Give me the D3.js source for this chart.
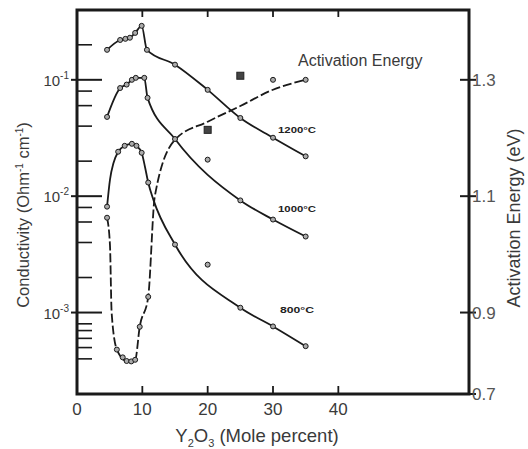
<!DOCTYPE html>
<html><head><meta charset="utf-8">
<script src="https://cdn.jsdelivr.net/npm/d3@7"></script>
<style>body{margin:0;background:#fff}svg{display:block}</style>
</head><body><svg id="c" width="528" height="449"></svg>
<script>
// ---- data ----
const mole1200 = [4.6, 6.6, 7.4, 8.1, 8.9, 9.9, 10.7, 15, 20, 25, 30, 35];
const cond1200 = [0.181, 0.220, 0.225, 0.230, 0.253, 0.291, 0.181, 0.135, 0.082, 0.047, 0.0318, 0.0220];

const mole1000 = [4.6, 6.6, 7.6, 8.4, 9.0, 10.3, 10.8, 15, 25, 30, 35];
const cond1000 = [0.048, 0.085, 0.091, 0.100, 0.104, 0.104, 0.070, 0.031, 0.0092, 0.0063, 0.0045];
const mole1000Pts = [4.6, 6.6, 7.6, 8.4, 9.0, 10.3, 10.8, 15, 20, 25, 30, 35];
const cond1000Pts = [0.048, 0.085, 0.091, 0.100, 0.104, 0.104, 0.070, 0.031, 0.0206, 0.0092, 0.0063, 0.0045];

const mole800 = [4.6, 5.05, 5.6, 6.3, 7.3, 8.4, 9.1, 9.9, 10.4, 10.9, 11.7, 15, 25, 30, 35];
const cond800 = [0.00813, 0.0139, 0.0194, 0.0241, 0.0271, 0.0282, 0.0271, 0.0236, 0.0179, 0.0131, 0.0093, 0.00384, 0.0011, 0.00076, 0.000514];
const mole800Pts = [4.6, 6.3, 7.3, 8.4, 9.1, 9.9, 10.9, 15, 20, 25, 30, 35];
const cond800Pts = [0.00813, 0.0241, 0.0271, 0.0282, 0.0271, 0.0236, 0.0131, 0.00384, 0.00258, 0.0011, 0.00076, 0.000514];

const moleAE = [4.6, 5.05, 5.3, 6.1, 7.6, 8.9, 9.6, 10.9, 11.9, 15, 20, 25, 30, 35];
const energyAE = [1.063, 1.015, 0.90, 0.809, 0.781, 0.784, 0.865, 0.927, 1.099, 1.197, 1.228, 1.255, 1.283, 1.30];
const moleAEPts = [4.6, 6.1, 7.0, 7.6, 8.3, 8.9, 9.6, 10.9, 30, 35];
const energyAEPts = [1.063, 0.809, 0.790, 0.781, 0.780, 0.784, 0.865, 0.927, 1.30, 1.30];
const moleAESq = [20, 25];
const energyAESq = [1.214, 1.307];

const xTicks = [0, 10, 20, 30, 40];
const yMajor = [0.1, 0.01, 0.001];
const yMajorExp = ["-1", "-2", "-3"];
const yMinor = [0.2, 0.08, 0.06, 0.04, 0.02, 0.008, 0.006, 0.004, 0.002, 0.0008, 0.0007, 0.0006, 0.0005, 0.0004];
const aeTicks = [0.7, 0.9, 1.1, 1.3];
const seriesLabels = ["1200°C", "1000°C", "800°C"];
const labelAt = [0.0375, 0.0078, 0.00107];

// ---- scales ----
const svg = d3.select("#c");
const x = d3.scaleLinear().domain([0, 60]).range([77, 469]);
const y = d3.scaleLog().domain([Math.pow(10, -3.7), Math.pow(10, -0.4)]).range([394, 10]);
const yAE = d3.scaleLinear().domain([0.7, 0.9, 1.3]).range([394, y(0.001), y(0.1)]);

const font = "'Liberation Sans', Arial, sans-serif";
const ink = "#1a1a1a";
const txt = "#3a3a3a";

// frame
svg.append("rect").attr("x", x(0)).attr("y", y.range()[1]).attr("width", x(60) - x(0)).attr("height", y.range()[0] - y.range()[1])
  .attr("fill", "none").attr("stroke", ink).attr("stroke-width", 3);

// top & bottom ticks
const xt = xTicks.filter(d => d > 0);
svg.selectAll(".tt").data(xt).join("line").attr("x1", d => x(d)).attr("x2", d => x(d))
  .attr("y1", 10).attr("y2", 17).attr("stroke", ink).attr("stroke-width", 1.8);
svg.selectAll(".bt").data(xt).join("line").attr("x1", d => x(d)).attr("x2", d => x(d))
  .attr("y1", 394).attr("y2", 386).attr("stroke", ink).attr("stroke-width", 1.8);
svg.selectAll(".xl").data(xTicks).join("text").attr("x", d => x(d)).attr("y", 415)
  .attr("text-anchor", "middle").attr("font-family", font).attr("font-size", 17).attr("fill", txt).text(d => d);

// left ticks
svg.selectAll(".ymaj").data(yMajor).join("line").attr("x1", x(0) - 6).attr("x2", x(0) + 25)
  .attr("y1", d => y(d)).attr("y2", d => y(d)).attr("stroke", ink).attr("stroke-width", 2);
svg.selectAll(".ymin").data(yMinor).join("line").attr("x1", x(0)).attr("x2", x(0) + 15)
  .attr("y1", d => y(d)).attr("y2", d => y(d)).attr("stroke", ink).attr("stroke-width", 1.6);
const yl = svg.selectAll(".yl").data(yMajor).join("text").attr("x", 69).attr("y", d => y(d) + 6)
  .attr("text-anchor", "end").attr("font-family", font).attr("font-size", 15).attr("fill", txt);
yl.append("tspan").text("10");
yl.append("tspan").attr("dy", -7).attr("font-size", 10).text((d, i) => yMajorExp[i]);

// right ticks
svg.selectAll(".rt").data(aeTicks).join("line").attr("x1", x(60) - 9).attr("x2", x(60) + 7)
  .attr("y1", d => yAE(d)).attr("y2", d => yAE(d)).attr("stroke", ink).attr("stroke-width", 2);
svg.selectAll(".rl").data(aeTicks).join("text").attr("x", x(60) + 3).attr("y", d => yAE(d) + 6)
  .attr("font-family", font).attr("font-size", 17).attr("fill", "#555").text(d => d.toFixed(1));

// axis titles
const lt = svg.append("text").attr("transform", "translate(29,215) rotate(-90)").attr("text-anchor", "middle")
  .attr("font-family", font).attr("font-size", 16.5).attr("fill", txt);
lt.append("tspan").text("Conductivity (Ohm");
lt.append("tspan").attr("dy", -6).attr("font-size", 10).text("-1");
lt.append("tspan").attr("dy", 6).text(" cm");
lt.append("tspan").attr("dy", -6).attr("font-size", 10).text("-1");
lt.append("tspan").attr("dy", 6).text(")");

svg.append("text").attr("transform", "translate(520,218) rotate(-90)").attr("text-anchor", "middle")
  .attr("font-family", font).attr("font-size", 18).attr("fill", txt).text("Activation Energy (eV)");

const bt = svg.append("text").attr("x", 257).attr("y", 442).attr("text-anchor", "middle")
  .attr("font-family", font).attr("font-size", 18.5).attr("fill", txt);
bt.append("tspan").text("Y");
bt.append("tspan").attr("dy", 5).attr("font-size", 11).text("2");
bt.append("tspan").attr("dy", -5).text("O");
bt.append("tspan").attr("dy", 5).attr("font-size", 11).text("3");
bt.append("tspan").attr("dy", -5).text(" (Mole percent)");

// lines
const lineC = d3.line().x(d => x(d[0])).y(d => y(d[1])).curve(d3.curveMonotoneX);
const lineE = d3.line().x(d => x(d[0])).y(d => yAE(d[1])).curve(d3.curveMonotoneX);
const zip = (a, b) => a.map((v, i) => [v, b[i]]);

[[mole1200, cond1200], [mole1000, cond1000], [mole800, cond800]].forEach(([m, c]) => {
  svg.append("path").attr("d", lineC(zip(m, c))).attr("fill", "none").attr("stroke", ink).attr("stroke-width", 1.8);
});
svg.append("path").attr("d", lineE(zip(moleAE, energyAE))).attr("fill", "none").attr("stroke", ink)
  .attr("stroke-width", 1.8).attr("stroke-dasharray", "9,3");

// markers
const circ = (pts, sc) => svg.append("g").selectAll("circle").data(pts).join("circle")
  .attr("cx", d => x(d[0])).attr("cy", d => sc(d[1])).attr("r", 2.5)
  .attr("fill", "#aaa").attr("stroke", ink).attr("stroke-width", 1);
circ(zip(mole1200, cond1200), y);
circ(zip(mole1000Pts, cond1000Pts), y);
circ(zip(mole800Pts, cond800Pts), y);
circ(zip(moleAEPts, energyAEPts), yAE);
svg.append("g").selectAll("rect").data(zip(moleAESq, energyAESq)).join("rect")
  .attr("x", d => x(d[0]) - 3.5).attr("y", d => yAE(d[1]) - 3.5).attr("width", 7).attr("height", 7)
  .attr("fill", "#444").attr("stroke", "#222");

// series labels
svg.selectAll(".sl").data(seriesLabels).join("text").attr("x", 297).attr("y", (d, i) => y(labelAt[i]) + 3.5)
  .attr("text-anchor", "middle").attr("font-family", font)
  .attr("font-weight", "bold").attr("font-size", 9.5).attr("textLength", (d, i) => i === 2 ? 34 : 38)
  .attr("lengthAdjust", "spacingAndGlyphs").attr("fill", "#222").text(d => d);

svg.append("text").attr("x", 298).attr("y", 66).attr("font-family", font).attr("font-size", 16)
  .attr("fill", txt).text("Activation Energy");
</script></body></html>
